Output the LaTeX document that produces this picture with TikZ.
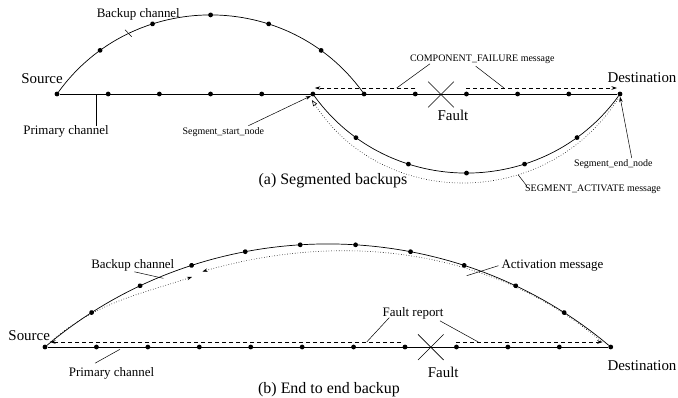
\documentclass[tikz,border=0pt]{standalone}
\usepackage{fontspec}
\setmainfont{Liberation Serif}
\usetikzlibrary{arrows.meta,decorations.markings,shapes.misc}

\begin{document}
\begin{tikzpicture}[x=1bp,y=1bp,
	hop/.style={circle,fill,inner sep=0pt,minimum size=4.8bp},
	chan/.style={line width=0.7bp},
	lead/.style={line width=0.5bp},
	fmsg/.style={line width=0.6bp,dash pattern=on 4bp off 3bp,-{Stealth[length=5.5bp,width=3.5bp]}},
	amsg/.style={line width=0.6bp,dotted},
	hops/.style n args={3}{postaction={decorate},decoration={markings,mark=between positions #1 and #2 step #3 with {\fill (0,0) circle (2.4bp);}}},
	fault/.style={draw,cross out,line width=0.6bp,minimum width=25bp,minimum height=25bp,inner sep=0pt},
	big/.style={inner sep=0pt,font=\fontsize{15}{17}\selectfont},
	mid/.style={inner sep=0pt,font=\fontsize{13}{15}\selectfont},
	note/.style={inner sep=0pt,font=\fontsize{10}{12}\selectfont},
	capt/.style={inner sep=0pt,font=\fontsize{16}{18}\selectfont}]

	\useasboundingbox (0,0) rectangle (678,397);

%	(a) segmented backups
	\foreach \i in {0,...,11} {
		\node[hop] (p\i) at ({57+51.18*\i},303) {};
	}
	\draw[chan] (p0) -- (p11);
	\draw[chan,hops={0.1667}{0.85}{0.1667}] (p0) to[bend left=54,looseness=1.07] (p6);
	\draw[chan,hops={0.1667}{0.85}{0.1667}] (p5) to[bend right=54,looseness=1.07] (p11);

	\draw[fmsg] ([yshift=6bp]p7.center) -- ([xshift=2bp,yshift=6bp]p5.center);
	\draw[fmsg] ([yshift=6bp]p8.center) -- ([xshift=-3bp,yshift=6bp]p11.center);
	\draw[amsg,-{Triangle[open,length=6bp,width=4.5bp]}] ([xshift=-2bp,yshift=-5bp]p11.center) to[bend left=57,looseness=1.1] ([xshift=-1bp,yshift=-6bp]p5.center);

	\node[fault] (faultA) at (441,302.5) {};
	\node[big] (fltA) at (453,282) {Fault};
	\node[big] (srcA) at (42,318) {Source};
	\node[big] (dstA) at (642,319) {Destination};

	\node[mid] (bkA) at (138.3,382.3) {Backup channel};
	\coordinate (bkAtip) at (131.7,360.3);
	\draw[lead] ([xshift=-13.3bp,yshift=-9bp]bkA.south) -- (bkAtip);

	\node[mid] (prA) at (66,265.3) {Primary channel};
	\coordinate (prAtip) at (96.7,303);
	\draw[lead] (prAtip) -- (prAtip |- prA.north);

	\node[note] (ssA) at (223.3,265) {Segment\_start\_node};
	\draw[lead,-{Stealth[length=5.5bp,width=3.5bp]}] ([xshift=25bp,yshift=1.5bp]ssA.north) -- (p5.south west);

	\node[note] (cfA) at (482.3,337.8) {COMPONENT\_FAILURE message};
	\coordinate (cfAl) at (396.7,309);
	\coordinate (cfAr) at (504,309);
	\draw[lead] ([xshift=-52.3bp]cfA.south) -- (cfAl);
	\draw[lead] ([xshift=-6.6bp,yshift=-2.4bp]cfA.south) -- (cfAr);

	\node[note] (seA) at (613.3,233.3) {Segment\_end\_node};
	\draw[lead,-{Stealth[length=5.5bp,width=3.5bp]}] ([xshift=18.4bp,yshift=1bp]seA.north) -- (p11.south);

	\node[note] (saA) at (593,208) {SEGMENT\_ACTIVATE message};
	\coordinate (saAtip) at (518.3,222);
	\draw[lead] ([xshift=-66.3bp,yshift=-1.4bp]saA.north) -- (saAtip);

	\node[capt] (capA) at (333,216.5) {(a) Segmented backups};

%	(b) end to end backup
	\foreach \i in {0,...,11} {
		\node[hop] (q\i) at ({45+51.43*\i},50) {};
	}
	\draw[chan] (q0) -- (q11);
	\draw[chan,hops={0.0909}{0.95}{0.0909}] (q0) to[bend left=40,looseness=0.96] (q11);

	\draw[fmsg] ([xshift=-4bp,yshift=5bp]q7.center) -- ([xshift=5bp,yshift=5bp]q0.center);
	\draw[fmsg] ([yshift=5bp]q8.center) -- ([xshift=-8bp,yshift=5bp]q11.center);

	\coordinate (amBl) at (192,120);
	\coordinate (amBr) at (202.5,125.5);
	\draw[amsg,-{Stealth[length=5bp,width=3.5bp]}] ([xshift=5bp,yshift=5bp]q0.center) to[out=40,in=198] (amBl);
	\draw[amsg,-{Stealth[length=5bp,width=3.5bp]}] ([xshift=-9.7bp,yshift=6bp]q11.center) to[out=140,in=16,looseness=0.92] (amBr);

	\node[fault] (faultB) at (430.8,49.8) {};
	\node[big] (fltB) at (443.2,24.8) {Fault};
	\node[big] (srcB) at (29.2,61.7) {Source};
	\node[big] (dstB) at (642,31.7) {Destination};

	\node[mid] (frB) at (413,83.7) {Fault report};
	\coordinate (frBl) at (366.7,55);
	\coordinate (frBr) at (478.3,55);
	\draw[lead] ([xshift=-23.7bp,yshift=1.8bp]frB.south) -- (frBl);
	\draw[lead] ([xshift=27bp,yshift=-1.5bp]frB.south) -- (frBr);

	\node[mid] (amB) at (552.5,131.3) {Activation message};
	\coordinate (amBtip) at (466.7,121.3);
	\draw[lead] ([xshift=-3bp]amB.west) -- (amBtip);

	\node[mid] (bkB) at (132.8,131.3) {Backup channel};
	\coordinate (bkBtip) at (163.3,118.7);
	\draw[lead] ([xshift=1.5bp]bkB.south) -- (bkBtip);

	\node[mid] (prB) at (111.5,23.7) {Primary channel};
	\coordinate (prBtip) at (120,47.7);
	\draw[lead] ([xshift=-16.5bp,yshift=4bp]prB.north) -- (prBtip);

	\node[capt] (capB) at (329,7.5) {(b) End to end backup};
\end{tikzpicture}
\end{document}
